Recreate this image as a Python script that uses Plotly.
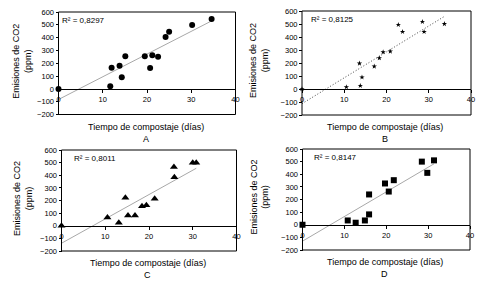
import numpy as np
import plotly.graph_objects as go

# ---- data ----
a_x = [0, 11.7, 12.0, 13.8, 14.3, 15.1, 19.5, 20.7, 21.2, 22.5, 24.2, 25.0, 30.2, 34.6]
a_y = [0, 20, 165, 180, 90, 255, 255, 163, 263, 250, 404, 446, 498, 545]

b_x = [0, 10.5, 13.8, 13.6, 14.2, 17.1, 18.3, 19.2, 20.9, 22.8, 23.8, 28.5, 28.9, 33.7]
b_y = [0, 15, 25, 197, 90, 174, 238, 284, 289, 494, 440, 517, 440, 501]

c_x = [0, 10.5, 13.1, 14.6, 15.2, 16.8, 18.4, 19.4, 21.3, 25.7, 25.8, 30.0, 30.8]
c_y = [0, 66, 24, 221, 82, 82, 155, 163, 213, 466, 384, 500, 500]

d_x = [0, 10.8, 12.7, 14.9, 15.9, 15.9, 19.7, 20.6, 21.8, 28.5, 29.8, 31.4]
d_y = [0, 34, 16, 34, 82, 240, 327, 263, 353, 500, 411, 510]

r2_labels = ["R² = 0,8297", "R² = 0,8125", "R² = 0,8011", "R² = 0,8147"]
panel_letters = ["A", "B", "C", "D"]
x_title = "Tiempo de compostaje (días)"
y_title = "Emisiones de CO2<br>(ppm)"
x_ticks = [0, 10, 20, 30, 40]
y_ticks = [-200, -100, 0, 100, 200, 300, 400, 500, 600]

W, H = 490, 284
FONT = "Liberation Sans, Arial, sans-serif"

panels = [
    dict(x=a_x, y=a_y, sym="circle", size=6, lc="#a8a8a8", dash="solid", px=(58.5, 235.5), py=(12, 114.5), r2dx=1, ytx=22.5),
    dict(x=b_x, y=b_y, sym="star", size=4, lc="#444444", dash="1px,2px", px=(302, 471), py=(11, 115), r2dx=7, ytx=259),
    dict(x=c_x, y=c_y, sym="triangle-up", size=7, lc="#a8a8a8", dash="solid", px=(61.5, 236.5), py=(150, 251), r2dx=10, ytx=22.5),
    dict(x=d_x, y=d_y, sym="square", size=6, lc="#a8a8a8", dash="solid", px=(302.5, 470), py=(149, 250), r2dx=9, ytx=259),
]

fig = go.Figure()
layout = dict(
    width=W, height=H, margin=dict(l=0, r=0, t=0, b=0, autoexpand=False),
    paper_bgcolor="white", plot_bgcolor="white", showlegend=False,
    font=dict(family=FONT, size=7.5, color="black"),
)
annotations = []
shapes = []

for i, p in enumerate(panels):
    n = i + 1
    xa = "xaxis" if n == 1 else f"xaxis{n}"
    ya = "yaxis" if n == 1 else f"yaxis{n}"
    xr = "x" if n == 1 else f"x{n}"
    yr = "y" if n == 1 else f"y{n}"
    xd = [p["px"][0] / W, p["px"][1] / W]
    yd = [1 - p["py"][1] / H, 1 - p["py"][0] / H]
    zero_pos = yd[0] + 0.25 * (yd[1] - yd[0])

    layout[xa] = dict(domain=xd, range=[0, 40], autorange=False, anchor="free",
                      position=zero_pos, side="bottom",
                      tickvals=x_ticks, ticks="outside", ticklen=3, tickwidth=1,
                      tickcolor="black", showline=True, linecolor="black", linewidth=1,
                      showgrid=False, zeroline=False,
                      tickfont=dict(size=7.5, family=FONT, color="black"))
    layout[ya] = dict(domain=yd, range=[-200, 600], autorange=False, anchor="free",
                      position=xd[0], side="left",
                      tickvals=y_ticks, ticks="outside", ticklen=3, tickwidth=1,
                      tickcolor="black", showline=False, showgrid=False, zeroline=False,
                      tickfont=dict(size=7.5, family=FONT, color="black"))

    shapes.append(dict(type="rect", xref=f"{xr} domain", yref=f"{yr} domain",
                       x0=0, x1=1, y0=0, y1=1, line=dict(color="black", width=1),
                       fillcolor="rgba(0,0,0,0)", layer="above"))

    xs = np.array(p["x"], dtype=float)
    ys = np.array(p["y"], dtype=float)
    m, b = np.polyfit(xs, ys, 1)
    tx = np.array([0.0, xs.max()])
    fig.add_trace(go.Scatter(x=tx, y=m * tx + b, mode="lines", xaxis=xr, yaxis=yr,
                             line=dict(color=p["lc"], width=1, dash=p["dash"]),
                             hoverinfo="skip", cliponaxis=False))
    fig.add_trace(go.Scatter(x=p["x"], y=p["y"], mode="markers", xaxis=xr, yaxis=yr,
                             marker=dict(symbol=p["sym"], size=p["size"], color="black",
                                         line=dict(width=0)),
                             cliponaxis=False))

    cx = (p["px"][0] + p["px"][1]) / 2
    annotations.append(dict(text=r2_labels[i], xref="paper", yref="paper",
                            x=(p["px"][0] + p["r2dx"]) / W,
                            y=1 - (p["py"][0] + 8.5) / H, xanchor="left", yanchor="middle",
                            showarrow=False, font=dict(size=8, family=FONT)))
    annotations.append(dict(text=x_title, xref="paper", yref="paper",
                            x=(cx - 1.5) / W, y=1 - (p["py"][1] + 12) / H,
                            xanchor="center", yanchor="middle", showarrow=False,
                            font=dict(size=9, family=FONT)))
    annotations.append(dict(text=panel_letters[i], xref="paper", yref="paper",
                            x=(cx - 1.5) / W, y=1 - (p["py"][1] + 24) / H,
                            xanchor="center", yanchor="middle", showarrow=False,
                            font=dict(size=9, family=FONT)))
    annotations.append(dict(text=y_title, xref="paper", yref="paper",
                            x=p["ytx"] / W, y=1 - ((p["py"][0] + p["py"][1]) / 2 - 2) / H,
                            xanchor="center", yanchor="middle", textangle=-90,
                            showarrow=False, font=dict(size=9, family=FONT)))

layout["annotations"] = annotations
layout["shapes"] = shapes
fig.update_layout(**layout)
fig.write_html("out.html", config={"displayModeBar": False},
               post_script="document.body.style.margin='0';document.body.style.padding='0';")
